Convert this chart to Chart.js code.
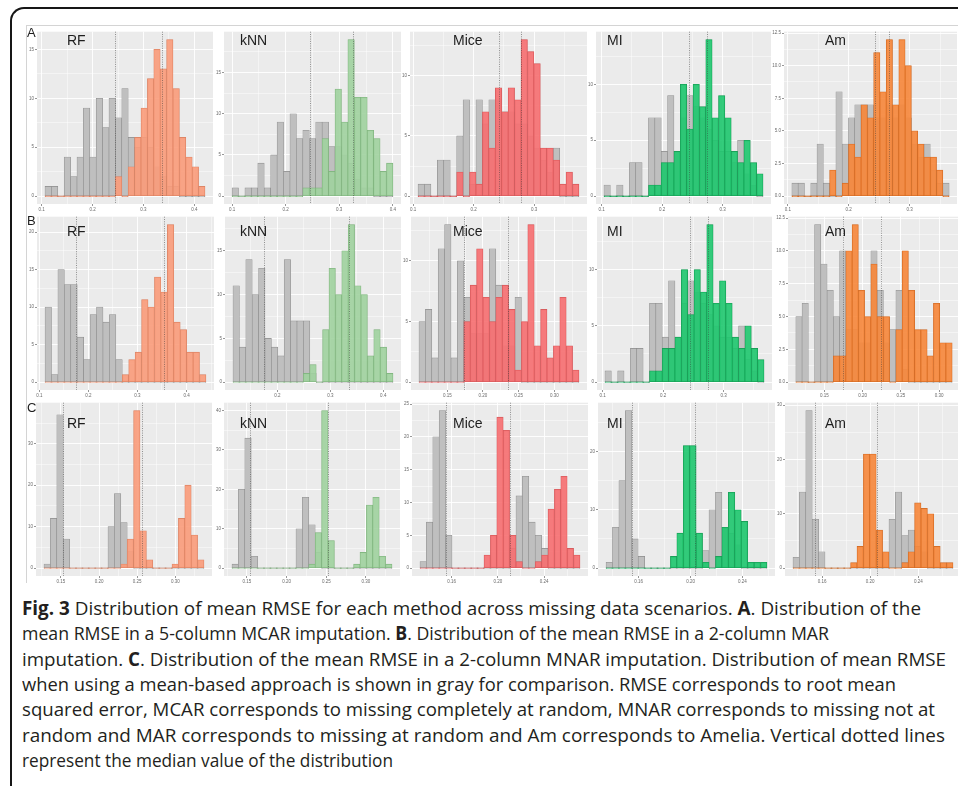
<!DOCTYPE html>
<html>
<head>
<meta charset="utf-8">
<script src="https://cdn.jsdelivr.net/npm/chart.js@4.4.1/dist/chart.umd.min.js"></script>
<style>
  html, body { margin:0; padding:0; background:#fff; }
  body { width:958px; height:786px; overflow:hidden; position:relative; font-family:"Liberation Sans", Arial, sans-serif; }
  .frame { position:absolute; left:10px; top:7px; width:1000px; height:900px; border-left:2px solid #161616; border-top:2px solid #161616; border-top-left-radius:14px; box-sizing:border-box; }
  .fig { position:absolute; left:26px; top:25px; width:1000px; height:558px; border-left:1px solid #d4d4d4; border-top:1px solid #d4d4d4; box-sizing:border-box; }
  canvas { position:absolute; }
  .ttl { position:absolute; font-size:14px; line-height:14px; color:#1e1e1e; white-space:nowrap; }
  .row { position:absolute; font-size:13px; line-height:13px; color:#1e1e1e; }
  #caption { position:absolute; left:22px; top:596px; font-family:"Liberation Sans Narrow","Open Sans",sans-serif; font-size:19px; line-height:25.33px; color:#231f20; }
  #caption div { width:max-content; white-space:nowrap; transform-origin:0 50%; }
  #caption b { font-weight:700; }
</style>
</head>
<body>
<div class="frame"></div>
<div class="fig"></div>
<div id="panels"></div>
<div id="caption">
  <div><b>Fig. 3</b> Distribution of mean RMSE for each method across missing data scenarios. <b>A</b>. Distribution of the</div>
  <div>mean RMSE in a 5-column MCAR imputation. <b>B</b>. Distribution of the mean RMSE in a 2-column MAR</div>
  <div>imputation. <b>C</b>. Distribution of the mean RMSE in a 2-column MNAR imputation. Distribution of mean RMSE</div>
  <div>when using a mean-based approach is shown in gray for comparison. RMSE corresponds to root mean</div>
  <div>squared error, MCAR corresponds to missing completely at random, MNAR corresponds to missing not at</div>
  <div>random and MAR corresponds to missing at random and Am corresponds to Amelia. Vertical dotted lines</div>
  <div>represent the median value of the distribution</div>
</div>
<script>
// ---------- data: histogram counts (25 bins per panel) ----------
const methods = ['RF', 'kNN', 'Mice', 'MI', 'Am'];
const rowLetters = ['A', 'B', 'C'];

// A: 5-column MCAR
const binStartA = [0.1065, 0.1000, 0.1083, 0.1038, 0.1066];
const binWidthA = [0.01258, 0.01201, 0.01063, 0.01052, 0.01033];
const meanA_RF   = [1,1,0,4,2,4,9,4,10,7,10,8,11,6,5,6,5,3,2,1,1,0,0,0,0];
const impA_RF    = [0,0,0,0,0,0,0,0,0,0,0,2,0,3,6,9,12,15,13,16,11,6,4,3,1];
const meanA_kNN  = [1,0,1,1,4,1,5,9,3,10,7,8,7,9,9,6,6,5,4,2,1,1,0,0,0];
const impA_kNN   = [0,0,0,0,0,0,0,0,0,0,0,1,1,1,7,3,13,9,19,12,12,8,7,3,4];
const meanA_Mice = [1,1,0,3,3,0,5,8,1,8,6,8,8,7,7,6,6,5,4,3,2,4,0,0,0];
const impA_Mice  = [0,0,0,0,0,0,2,0,2,1,7,4,9,7,9,8,13,12,11,4,4,3,1,2,1];
const meanA_MI   = [1,0,1,0,3,3,0,7,7,4,9,4,7,9,8,7,6,5,4,4,3,5,2,1,0];
const impA_MI    = [0,0,0,0,0,0,0,1,1,3,3,4,10,6,10,8,14,7,9,7,4,3,5,3,2];
const meanA_Am   = [1,1,0,1,4,1,0,8,4,6,7,7,7,6,6,7,6,7,6,4,3,4,2,1,1];
const impA_Am    = [0,0,0,0,0,0,2,0,1,4,3,7,6,11,8,12,7,12,10,5,4,3,3,2,0];
const medianMeanA = [0.2435, 0.2452, 0.2420, 0.2440, 0.2426];
const medianImpA  = [0.3360, 0.3260, 0.2780, 0.2742, 0.2667];
const xTicksA = [['0.1','0.2','0.3','0.4'], ['0.1','0.2','0.3','0.4'], ['0.1','0.2','0.3'], ['0.1','0.2','0.3'], ['0.1','0.2','0.3']];
const yTicksA = [['0','5','10','15'], ['0','5','10','15'], ['0','5','10'], ['0','5','10'], ['0.0','2.5','5.0','7.5','10.0','12.5']];

// B: 2-column MAR
const binStartB = [0.1116, 0.1164, 0.1103, 0.1038, 0.1125];
const binWidthB = [0.01312, 0.01208, 0.008972, 0.01052, 0.008188];
const meanB_RF   = [10,1,15,13,13,6,3,9,10,8,9,3,0,0,0,0,0,0,0,0,0,0,0,0,0];
const impB_RF    = [0,0,0,0,0,0,0,0,0,0,0,0,1,3,4,11,10,14,12,21,8,7,4,4,1];
const meanB_kNN  = [11,4,14,10,13,5,4,3,14,7,7,7,1,0,0,0,0,0,0,0,0,0,0,0,0];
const impB_kNN   = [0,0,0,0,0,0,0,0,0,0,0,1,2,0,6,13,10,15,18,11,10,3,6,4,1];
const meanB_Mice = [5,6,2,11,13,2,10,7,4,4,4,11,8,3,3,7,0,0,0,0,0,0,0,0,0];
const impB_Mice  = [0,0,0,0,0,0,0,5,8,11,7,5,7,8,6,1,5,13,3,6,2,3,7,3,1];
const meanB_MI   = [1,0,1,0,3,3,0,7,7,4,9,4,7,9,8,7,6,5,4,4,3,5,2,1,0];
const impB_MI    = [0,0,0,0,0,0,0,1,1,3,3,4,10,6,10,8,14,7,9,7,4,3,5,3,2];
const meanB_Am   = [5,6,0,12,9,7,5,10,4,4,3,3,10,7,3,4,7,1,0,0,0,0,0,0,0];
const impB_Am    = [0,0,0,0,0,0,2,2,10,12,7,5,9,5,5,0,4,10,7,4,4,2,6,3,3];
const medianMeanB = [0.1750, 0.1742, 0.1738, 0.2440, 0.1748];
const medianImpB  = [0.3540, 0.3358, 0.2355, 0.2742, 0.2236];
const xTicksB = [['0.1','0.2','0.3','0.4'], ['0.1','0.2','0.3','0.4'], ['0.15','0.20','0.25','0.30'], ['0.1','0.2','0.3'], ['0.15','0.20','0.25','0.30']];
const yTicksB = [['0','5','10','15','20'], ['0','5','10','15'], ['0','5','10'], ['0','5','10'], ['0.0','2.5','5.0','7.5','10.0','12.5']];

// C: 2-column MNAR
const binStartC = [0.1278, 0.1311, 0.13257, 0.1349, 0.1359];
const binWidthC = [0.00839, 0.008067, 0.005544, 0.00496, 0.005316];
const meanC_RF   = [1,12,37,7,0,0,0,0,0,0,10,18,11,4,0,0,0,0,0,0,0,0,0,0,0];
const impC_RF    = [0,0,0,0,0,0,0,0,0,0,0,0,1,7,38,9,2,0,0,0,1,12,20,8,2];
const meanC_kNN  = [1,20,33,3,0,0,0,0,0,0,10,18,11,4,0,0,0,0,0,0,0,0,0,0,0];
const impC_kNN   = [0,0,0,0,0,0,0,0,0,0,0,0,1,9,40,7,0,0,0,1,4,16,18,3,1];
const meanC_Mice = [1,7,20,24,5,0,0,0,0,0,0,0,0,0,3,11,14,7,5,3,0,0,0,0,0];
const impC_Mice  = [0,0,0,0,0,0,0,0,0,0,2,5,23,21,5,1,0,0,1,2,9,12,14,3,2];
const meanC_MI   = [1,7,15,27,5,2,0,0,0,0,0,0,0,0,0,3,10,13,7,6,4,0,0,0,0];
const impC_MI    = [0,0,0,0,0,0,0,0,0,0,2,6,21,21,6,1,0,2,7,13,10,8,1,1,1];
const meanC_Am   = [2,14,29,9,3,0,0,0,0,0,0,0,0,0,0,9,14,6,7,4,3,0,0,0,0];
const impC_Am    = [0,0,0,0,0,0,0,0,0,1,4,21,21,7,3,0,0,1,3,12,11,10,4,1,1];
const medianMeanC = [0.1530, 0.1534, 0.1548, 0.1549, 0.1545];
const medianImpC  = [0.2557, 0.2520, 0.2101, 0.2038, 0.2055];
const xTicksC = [['0.15','0.20','0.25','0.30'], ['0.15','0.20','0.25','0.30'], ['0.16','0.20','0.24'], ['0.16','0.20','0.24'], ['0.16','0.20','0.24']];
const yTicksC = [['0','10','20','30'], ['0','10','20','30','40'], ['0','5','10','15','20','25'], ['0','10','20'], ['0','10','20','30']];

// ---------- styling ----------
const meanFill = 'rgb(191,191,191)';
const meanLine = 'rgb(140,140,140)';
const impFill = ['rgba(249,155,122,0.9)', 'rgba(160,210,158,0.9)', 'rgba(246,110,112,0.9)', 'rgba(30,198,110,0.9)', 'rgba(246,134,58,0.9)'];
const impLine = ['rgb(214,128,98)', 'rgb(124,176,122)', 'rgb(206,88,90)', 'rgb(28,150,84)', 'rgb(204,104,36)'];

// plot-area rectangles (page pixels) for each row of panels
const layout = [
  { top: 28,  bottom: 204, lefts: [37, 224, 410, 596, 784], rights: [213, 401, 587, 771, 957], titleTop: 33,  letterTop: 25.5 },
  { top: 213, bottom: 390, lefts: [37, 225, 411, 597, 788], rights: [214, 401, 587, 772, 960], titleTop: 224, letterTop: 213.5 },
  { top: 399, bottom: 576, lefts: [36, 224, 412, 598, 785], rights: [212, 400, 588, 775, 961], titleTop: 416, letterTop: 401 }
];
const titleLefts = [67, 240, 453, 607, 825];

const rowsData = [
  { start: binStartA, width: binWidthA, mean: [meanA_RF, meanA_kNN, meanA_Mice, meanA_MI, meanA_Am], imp: [impA_RF, impA_kNN, impA_Mice, impA_MI, impA_Am], medMean: medianMeanA, medImp: medianImpA, xt: xTicksA, yt: yTicksA },
  { start: binStartB, width: binWidthB, mean: [meanB_RF, meanB_kNN, meanB_Mice, meanB_MI, meanB_Am], imp: [impB_RF, impB_kNN, impB_Mice, impB_MI, impB_Am], medMean: medianMeanB, medImp: medianImpB, xt: xTicksB, yt: yTicksB },
  { start: binStartC, width: binWidthC, mean: [meanC_RF, meanC_kNN, meanC_Mice, meanC_MI, meanC_Am], imp: [impC_RF, impC_kNN, impC_Mice, impC_MI, impC_Am], medMean: medianMeanC, medImp: medianImpC, xt: xTicksC, yt: yTicksC }
];

const Y_AXIS_W = 12;
const X_AXIS_H = 10;

// panel background and median reference lines
const panelDecor = {
  id: 'panelDecor',
  beforeDraw(chart) {
    const { ctx, chartArea: a } = chart;
    ctx.save();
    ctx.fillStyle = '#EBEBEB';
    ctx.fillRect(a.left, a.top, a.right - a.left, a.bottom - a.top);
    ctx.restore();
  },
  afterDatasetsDraw(chart, args, opts) {
    const { ctx, chartArea: a } = chart;
    const x = chart.scales.x;
    ctx.save();
    ctx.strokeStyle = 'rgba(60,60,60,0.75)';
    ctx.lineWidth = 0.7;
    ctx.setLineDash([1, 1.3]);
    (opts.medians || []).forEach(m => {
      const px = Math.round(x.getPixelForValue(m)) + 0.5;
      ctx.beginPath();
      ctx.moveTo(px, a.top);
      ctx.lineTo(px, a.bottom);
      ctx.stroke();
    });
    ctx.restore();
  }
};

// major breaks from the labels, minor breaks halfway between them
function breaks(labels, lo, hi) {
  const majors = labels.map(Number);
  const step = majors[1] - majors[0];
  const all = majors.slice();
  majors.forEach(v => all.push(v - step / 2));
  all.push(majors[majors.length - 1] + step / 2);
  const vals = all.filter(v => v >= lo - 1e-9 && v <= hi + 1e-9).sort((p, q) => p - q);
  const text = new Map(majors.map((v, i) => [v.toFixed(4), labels[i]]));
  return {
    vals,
    isMajor: v => text.has(Number(v).toFixed(4)),
    label: v => text.get(Number(v).toFixed(4)) || ''
  };
}

function axis(br, lo, hi, fixedSize, isX) {
  return {
    type: 'linear',
    min: lo, max: hi,
    offset: false,
    afterBuildTicks: s => { s.ticks = br.vals.map(v => ({ value: v })); },
    afterFit: s => { if (isX) s.height = fixedSize; else s.width = fixedSize; },
    ticks: {
      autoSkip: false, maxRotation: 0, minRotation: 0, padding: 1,
      font: { size: 4.5, family: 'Liberation Sans, Arial, sans-serif' },
      color: '#6a6a6a',
      callback: v => br.label(v)
    },
    grid: {
      offset: false,
      drawOnChartArea: true,
      color: '#FFFFFF',
      lineWidth: c => (c.tick && br.isMajor(c.tick.value)) ? 0.9 : 0.45,
      tickLength: 2,
      tickColor: c => (c.tick && br.isMajor(c.tick.value)) ? '#8a8a8a' : 'rgba(0,0,0,0)'
    },
    border: { display: false }
  };
}

const host = document.getElementById('panels');

rowsData.forEach((rd, r) => {
  const lay = layout[r];
  const letter = document.createElement('div');
  letter.className = 'row';
  letter.style.left = '27px';
  letter.style.top = lay.letterTop + 'px';
  letter.textContent = rowLetters[r];
  document.body.appendChild(letter);

  methods.forEach((m, c) => {
    const L = lay.lefts[c], R = lay.rights[c], T = lay.top, B = lay.bottom;
    const start = rd.start[c], w = rd.width[c];
    const meanCounts = rd.mean[c], impCounts = rd.imp[c];
    const n = meanCounts.length;
    const end = start + n * w;
    const span = end - start;
    const xlo = start - 0.05 * span, xhi = end + 0.05 * span;
    const top = Math.max(...meanCounts, ...impCounts);
    const ylo = -0.05 * top, yhi = 1.05 * top;

    const canvas = document.createElement('canvas');
    canvas.width = (R - L) + Y_AXIS_W;
    canvas.height = (B - T) + X_AXIS_H;
    canvas.style.left = (L - Y_AXIS_W) + 'px';
    canvas.style.top = T + 'px';
    host.appendChild(canvas);

    const pts = arr => arr.map((v, i) => ({ x: start + (i + 0.5) * w, y: v }));
    const xb = breaks(rd.xt[c], xlo, xhi);
    const yb = breaks(rd.yt[c], ylo, yhi);

    new Chart(canvas, {
      type: 'bar',
      data: {
        datasets: [
          { data: pts(meanCounts), backgroundColor: meanFill, borderColor: meanLine, borderWidth: 0.6,
            borderSkipped: false, barPercentage: 1, categoryPercentage: 1, grouped: false, minBarLength: 0.8, order: 2 },
          { data: pts(impCounts), backgroundColor: impFill[c], borderColor: impLine[c], borderWidth: 0.6,
            borderSkipped: false, barPercentage: 1, categoryPercentage: 1, grouped: false, minBarLength: 0.8, order: 1 }
        ]
      },
      options: {
        responsive: false,
        animation: false,
        devicePixelRatio: 1,
        layout: { padding: 0, autoPadding: false },
        plugins: { legend: { display: false }, tooltip: { enabled: false },
                   panelDecor: { medians: [rd.medMean[c], rd.medImp[c]] } },
        scales: {
          x: axis(xb, xlo, xhi, X_AXIS_H, true),
          y: axis(yb, ylo, yhi, Y_AXIS_W, false)
        }
      },
      plugins: [panelDecor]
    });

    const t = document.createElement('div');
    t.className = 'ttl';
    t.style.left = titleLefts[c] + 'px';
    t.style.top = lay.titleTop + 'px';
    t.textContent = m;
    document.body.appendChild(t);
  });
});

// caption lines: fit each line to its measured extent
const captionEnds = [921, 829, 946, 896, 935, 945, 393];
function fitCaption() {
  document.querySelectorAll('#caption div').forEach((el, i) => {
    el.style.transform = 'none';
    const natural = el.getBoundingClientRect().width;
    const target = captionEnds[i] - 22;
    el.style.transform = 'scaleX(' + (target / natural).toFixed(4) + ')';
  });
}
fitCaption();
if (document.fonts && document.fonts.ready) document.fonts.ready.then(fitCaption);
</script>
</body>
</html>
